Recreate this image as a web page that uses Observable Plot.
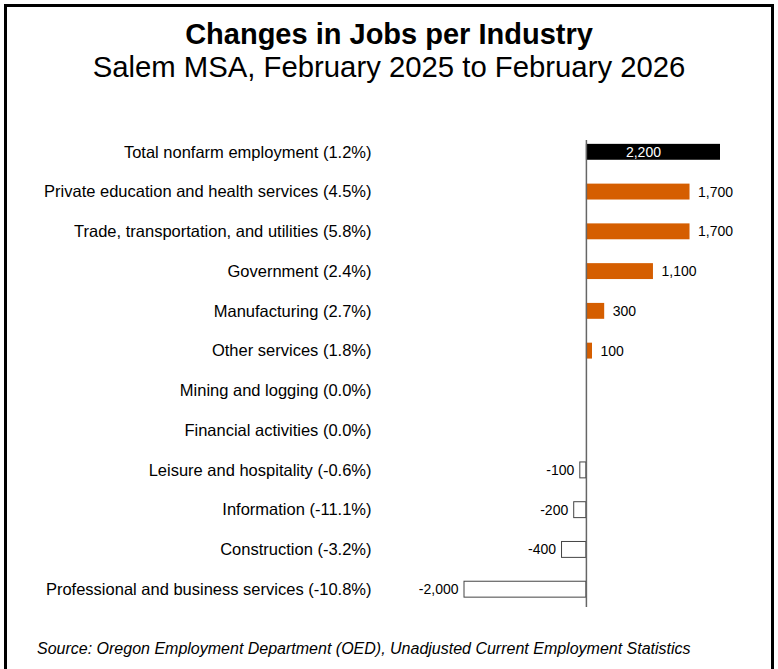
<!DOCTYPE html>
<html>
<head>
<meta charset="utf-8">
<script src="https://cdn.jsdelivr.net/npm/d3@7"></script>
<script src="https://cdn.jsdelivr.net/npm/@observablehq/plot@0.6"></script>
<style>
  html, body { margin: 0; padding: 0; background: #fff; }
  body { width: 778px; height: 669px; overflow: hidden; position: relative; font-family: "Liberation Sans", Arial, sans-serif; }
  #frame { position: absolute; left: 4px; top: 4px; width: 770px; height: 700px; border: 3px solid #000; box-sizing: border-box; }
  .t { position: absolute; left: 0; width: 778px; text-align: center; color: #000; line-height: 29px; white-space: nowrap; }
  #title { top: 20px; font-size: 29px; font-weight: bold; }
  #subtitle { top: 52px; font-size: 29.3px; }
  #chart { position: absolute; left: 7px; top: 100px; }
  #caption { position: absolute; left: 37px; top: 640px; font-size: 16px; font-style: italic; line-height: 18px; white-space: nowrap; }
</style>
</head>
<body>
<div id="frame"></div>
<div id="title" class="t">Changes in Jobs per Industry</div>
<div id="subtitle" class="t">Salem MSA, February 2025 to February 2026</div>
<div id="chart"></div>
<div id="caption">Source: Oregon Employment Department (OED), Unadjusted Current Employment Statistics</div>
<script>
const industries = [
  "Total nonfarm employment",
  "Private education and health services",
  "Trade, transportation, and utilities",
  "Government",
  "Manufacturing",
  "Other services",
  "Mining and logging",
  "Financial activities",
  "Leisure and hospitality",
  "Information",
  "Construction",
  "Professional and business services"
];
const pctChange = ["1.2%", "4.5%", "5.8%", "2.4%", "2.7%", "1.8%", "0.0%", "0.0%", "-0.6%", "-11.1%", "-3.2%", "-10.8%"];
const jobChange = [2200, 1700, 1700, 1100, 300, 100, 0, 0, -100, -200, -400, -2000];

const data = industries.map((name, i) => ({
  label: `${name} (${pctChange[i]})`,
  change: jobChange[i],
  total: i === 0
}));
const labels = data.map(d => d.label);
const fmt = d3.formatLocale({ decimal: ".", thousands: ",", grouping: [3], currency: ["$", ""], minus: "-" }).format(",");

const chart = Plot.plot({
  width: 764,
  height: 531,
  marginLeft: 457,
  marginRight: 51,
  marginTop: 20,
  marginBottom: 10,
  style: { fontFamily: "'Liberation Sans', Arial, sans-serif", fontSize: "16.5px", color: "#000", background: "transparent" },
  x: { domain: [-2000, 2200], axis: null },
  y: { domain: labels, padding: 0.6, round: false, axis: null, label: null },
  marks: [
    Plot.axisY({ tickSize: 0, tickPadding: 93, fontSize: 16.5, fill: "#000", label: null }),
    Plot.barX(data, {
      y: "label",
      x: "change",
      fill: d => d.total ? "#000" : d.change > 0 ? "#D55E00" : "#fff",
      stroke: d => d.change < 0 ? "#444" : "none",
      strokeWidth: 1
    }),
    Plot.ruleX([0], { stroke: "#666", strokeWidth: 1.5, insetTop: 20, insetBottom: 14 }),
    Plot.text(data.filter(d => !d.total && d.change > 0), {
      y: "label", x: "change", text: d => fmt(d.change),
      textAnchor: "start", dx: 8, fontSize: 14, fill: "#000"
    }),
    Plot.text(data.filter(d => d.change < 0), {
      y: "label", x: "change", text: d => fmt(d.change),
      textAnchor: "end", dx: -6, fontSize: 14, fill: "#000"
    }),
    Plot.text(data.filter(d => d.total), {
      y: "label", x: d => d.change / 2, text: d => fmt(d.change),
      textAnchor: "middle", dx: -10, fontSize: 14, fill: "#fff"
    })
  ]
});
document.getElementById("chart").appendChild(chart);
</script>
</body>
</html>
